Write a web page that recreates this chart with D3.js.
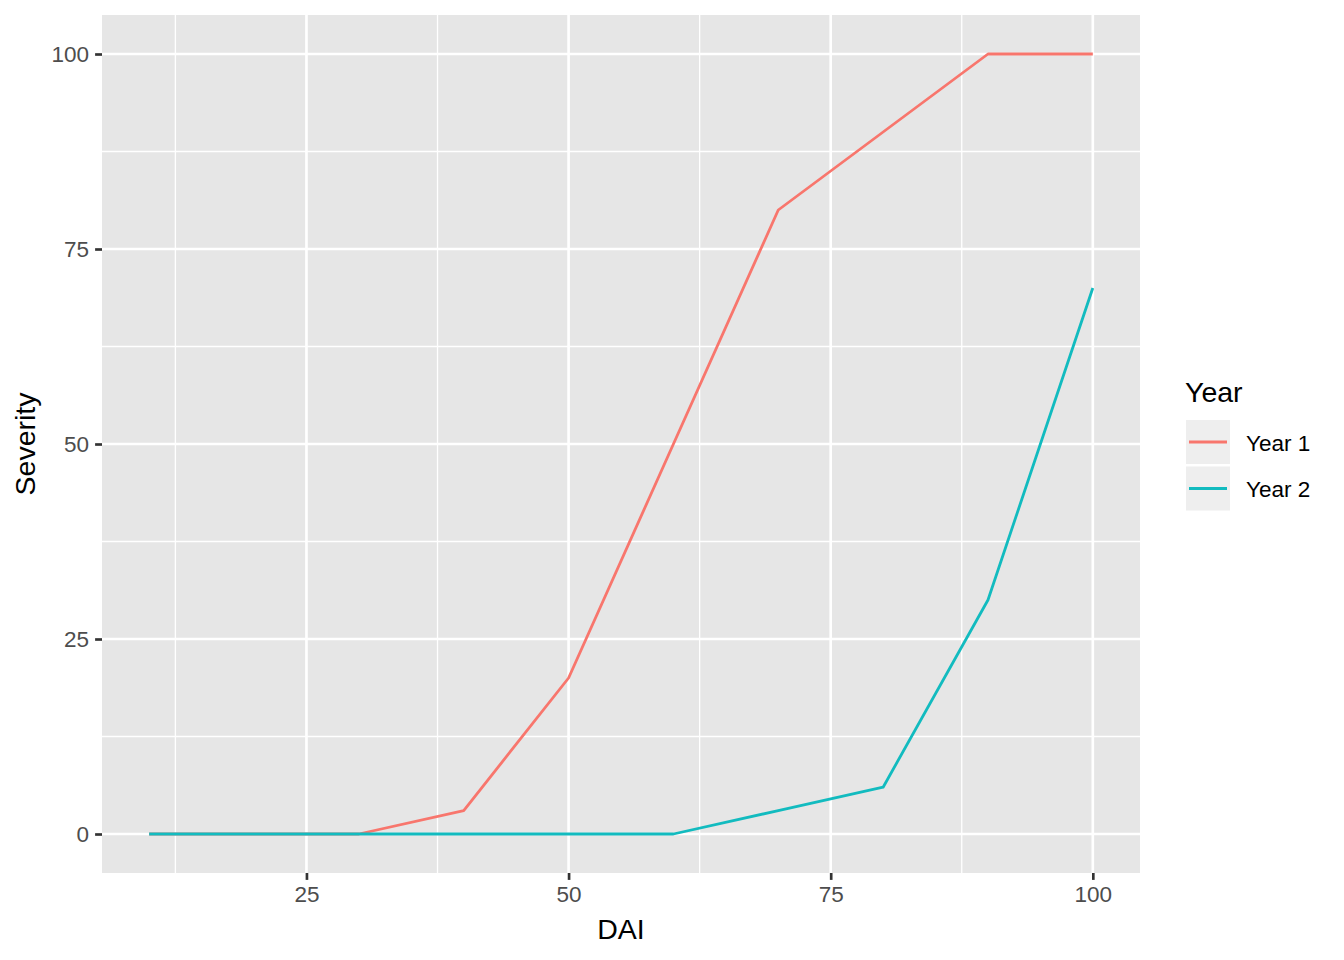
<!DOCTYPE html>
<html>
<head>
<meta charset="utf-8">
<script src="https://cdn.jsdelivr.net/npm/d3@7"></script>
<style>
  body { margin: 0; background: #fff; }
  svg { display: block; font-family: "Liberation Sans", Arial, sans-serif; }
</style>
</head>
<body>
<svg id="chart" width="1344" height="960"></svg>
<script>
const dai = [10, 20, 30, 40, 50, 60, 70, 80, 90, 100];
const year1 = [0, 0, 0, 3, 20, 50, 80, 90, 100, 100];
const year2 = [0, 0, 0, 0, 0, 0, 3, 6, 30, 70];
const seriesNames = ["Year 1", "Year 2"];
const seriesColors = ["#F8766D", "#12BBBF"];
const xTicks = [25, 50, 75, 100];
const xMinor = [12.5, 37.5, 62.5, 87.5];
const yTicks = [0, 25, 50, 75, 100];
const yMinor = [12.5, 37.5, 62.5, 87.5];

const svg = d3.select("#chart");
const panel = { left: 102, right: 1140, top: 15, bottom: 873 };

const xExt = d3.extent(dai);
const xPad = (xExt[1] - xExt[0]) * 0.05;
const x = d3.scaleLinear().domain([xExt[0] - xPad, xExt[1] + xPad]).range([panel.left, panel.right]);
const yMax = d3.max(year1.concat(year2));
const yPad = yMax * 0.05;
const y = d3.scaleLinear().domain([-yPad, yMax + yPad]).range([panel.bottom, panel.top]);

svg.append("rect").attr("x", panel.left).attr("y", panel.top)
  .attr("width", panel.right - panel.left).attr("height", panel.bottom - panel.top)
  .attr("fill", "#E6E6E6");

const grid = svg.append("g");
grid.selectAll(".xmin").data(xMinor).join("line")
  .attr("x1", d => x(d)).attr("x2", d => x(d)).attr("y1", panel.top).attr("y2", panel.bottom)
  .attr("stroke", "#fff").attr("stroke-width", 1.33);
grid.selectAll(".ymin").data(yMinor).join("line")
  .attr("y1", d => y(d)).attr("y2", d => y(d)).attr("x1", panel.left).attr("x2", panel.right)
  .attr("stroke", "#fff").attr("stroke-width", 1.33);
grid.selectAll(".xmaj").data(xTicks).join("line")
  .attr("x1", d => x(d)).attr("x2", d => x(d)).attr("y1", panel.top).attr("y2", panel.bottom)
  .attr("stroke", "#fff").attr("stroke-width", 2.67);
grid.selectAll(".ymaj").data(yTicks).join("line")
  .attr("y1", d => y(d)).attr("y2", d => y(d)).attr("x1", panel.left).attr("x2", panel.right)
  .attr("stroke", "#fff").attr("stroke-width", 2.67);

// axes
const xAxis = svg.append("g").attr("transform", `translate(0,${panel.bottom})`)
  .call(d3.axisBottom(x).tickValues(xTicks).tickSize(6.9).tickPadding(6.5).tickFormat(d3.format("d")));
const yAxis = svg.append("g").attr("transform", `translate(${panel.left},0)`)
  .call(d3.axisLeft(y).tickValues(yTicks).tickSize(6.9).tickPadding(6).tickFormat(d3.format("d")));
[xAxis, yAxis].forEach(a => {
  a.select(".domain").remove();
  a.selectAll(".tick line").attr("stroke", "#333333").attr("stroke-width", 2.67);
  a.selectAll(".tick text").attr("fill", "#4D4D4D").style("font-size", "22.5px")
    .style("font-family", "'Liberation Sans', Arial, sans-serif");
});

// lines
const seriesData = [year1, year2];
const line = d3.line().x((d, i) => x(dai[i])).y(d => y(d));
svg.append("g").selectAll("path").data(seriesData).join("path")
  .attr("d", d => line(d))
  .attr("fill", "none")
  .attr("stroke", (d, i) => seriesColors[i])
  .attr("stroke-width", 2.8)
  .attr("stroke-linejoin", "round");

// axis titles
svg.append("text").attr("x", (panel.left + panel.right) / 2).attr("y", 939)
  .attr("text-anchor", "middle").style("font-size", "28.5px").attr("fill", "#000").text("DAI");
svg.append("text").attr("transform", `translate(35,${(panel.top + panel.bottom) / 2}) rotate(-90)`)
  .attr("text-anchor", "middle").style("font-size", "28.5px").attr("fill", "#000").text("Severity");

// legend
const lg = svg.append("g");
lg.append("text").attr("x", 1185).attr("y", 402).style("font-size", "28.5px").attr("fill", "#000").text("Year");
const keyX = 1186, keyW = 44, keyH = 44, keyY0 = 420, keyGap = 46.5;
seriesNames.forEach((name, i) => {
  const ky = keyY0 + i * keyGap;
  lg.append("rect").attr("x", keyX).attr("y", ky).attr("width", keyW).attr("height", keyH).attr("fill", "#EEEEEE");
  lg.append("line").attr("x1", keyX + 3).attr("x2", keyX + keyW - 3)
    .attr("y1", ky + keyH / 2).attr("y2", ky + keyH / 2)
    .attr("stroke", seriesColors[i]).attr("stroke-width", 2.8);
  lg.append("text").attr("x", 1246).attr("y", ky + keyH / 2 + 8.5)
    .style("font-size", "22.5px").attr("fill", "#000").text(name);
});
</script>
</body>
</html>
